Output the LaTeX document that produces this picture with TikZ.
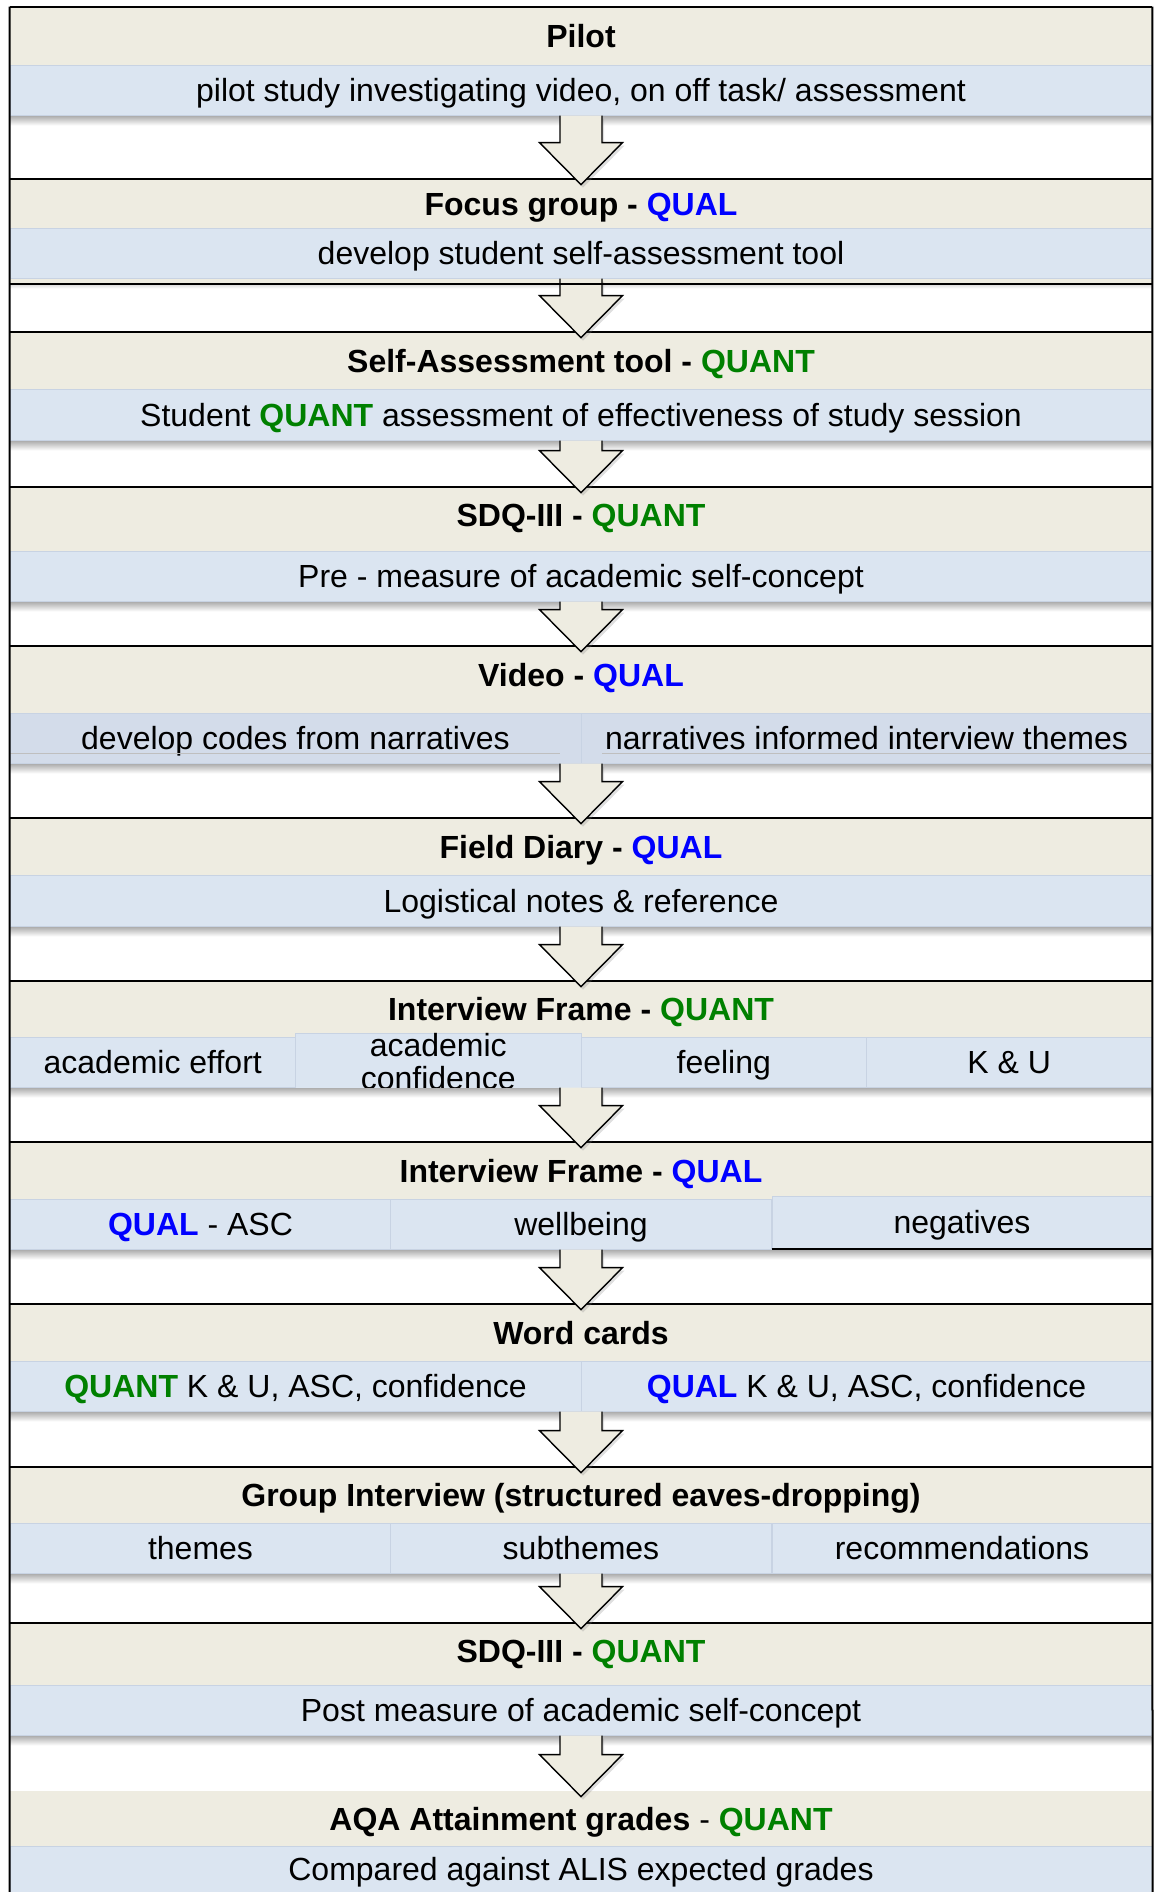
\documentclass[tikz,border=0pt]{standalone}
\usepackage{fontspec}
\setmainfont{Liberation Sans}
\usepackage{xcolor}
\definecolor{hdrtan}{RGB}{238,236,225}
\definecolor{bandblue}{RGB}{219,229,241}
\definecolor{vidblue}{RGB}{211,220,234}
\definecolor{cellline}{RGB}{200,211,227}
\definecolor{qualblue}{RGB}{0,0,255}
\definecolor{quantgreen}{RGB}{0,128,0}
\usetikzlibrary{calc,shadows}
\newcommand{\bodyfont}{\fontsize{16pt}{16.5pt}\selectfont}
\newcommand{\qual}{\textcolor{qualblue}{\bfseries QUAL}}
\newcommand{\quant}{\textcolor{quantgreen}{\bfseries QUANT}}
% block arrow from a band down into the next header
\newcommand{\flowarrow}[2]{%
  \filldraw[blk] let \p1=(#1.south), \p2=(#2.north) in
    (\x1-10.5pt,\y1) -- (\x1-10.5pt,\y2+18pt) -- (\x1-20.75pt,\y2+18pt) -- (\x1,\y2-3pt)
    -- (\x1+20.75pt,\y2+18pt) -- (\x1+10.5pt,\y2+18pt) -- (\x1+10.5pt,\y1);}

\begin{document}
\begin{tikzpicture}[x=0.5pt,y=-0.5pt,
  mid/.style={text height=11.5pt,text depth=0pt},
  hdr/.style={fill=hdrtan,minimum width=571pt,inner sep=0pt,mid,font=\bodyfont\bfseries},
  band/.style={fill=bandblue,draw=cellline,line width=0.5pt,minimum width=571pt,inner sep=0pt,mid,font=\bodyfont},
  twocell/.style={fill=bandblue,draw=cellline,line width=0.5pt,inner sep=0pt,align=center,font=\bodyfont},
  cell/.style={twocell,mid},
  rule/.style={black,line width=1pt},
  blk/.style={fill=hdrtan,draw=black,line width=0.7pt,line join=miter,
    drop shadow={opacity=0.25,shadow xshift=1pt,shadow yshift=-1.5pt}}]
  \useasboundingbox (0,0) rectangle (1156,1892);
  % Pilot
  \node[hdr,minimum height=29pt] (h1) at (581,36) {Pilot};
  \node[band,minimum height=25pt] (b1) at (581,90) {pilot study investigating video, on off task/ assessment};
  % Focus group
  \node[hdr,minimum height=24.5pt] (h2) at (581,203.5) {Focus group - \qual};
  \node[band,minimum height=25pt] (b2) at (581,253) {develop student self-assessment tool};
  % Self-Assessment tool
  \node[hdr,minimum height=28.5pt] (h3) at (581,360.5) {Self-Assessment tool - \quant};
  \node[band,minimum height=25.5pt] (b3) at (581,414.5) {Student \quant{} assessment of effectiveness of study session};
  % SDQ-III (pre)
  \node[hdr,minimum height=32pt,text depth=4pt] (h4) at (581,519) {SDQ-III - \quant};
  \node[band,minimum height=25pt] (b4) at (581,576) {Pre - measure of academic self-concept};
  % Video
  \node[hdr,minimum height=33.5pt,text depth=5pt] (h5) at (581,679.5) {Video - \qual};
  \node[band,fill=vidblue,minimum height=25pt] (b5) at (581,738) {};
  \node[cell,fill=vidblue,minimum width=285.5pt,minimum height=25pt] (v1) at (295.5,738) {develop codes from narratives};
  \node[cell,fill=vidblue,minimum width=285.5pt,minimum height=25pt] (v2) at (866.5,738) {narratives informed interview themes};
  \draw[black!25,line width=0.8pt] (v1.south west) ++(0,-10) -- ++(550,0);
  \draw[black!25,line width=0.8pt] (v2.south east) ++(0,-10) -- ++(-551,0);
  % Field Diary
  \node[hdr,minimum height=28.5pt] (h6) at (581,846.5) {Field Diary - \qual};
  \node[band,minimum height=25.5pt] (b6) at (581,900.5) {Logistical notes \& reference};
  % Interview Frame - QUANT
  \node[hdr,minimum height=28pt] (h7) at (581,1009) {Interview Frame - \quant};
  \node[band,minimum height=25pt] (b7) at (581,1062) {};
  \node[cell,minimum width=142.75pt,minimum height=25pt] (q1) at (152.75,1062) {academic effort};
  \node[twocell,minimum width=142.75pt,minimum height=25pt] (q2) at (438.25,1062) {academic\\confidence};
  \node[cell,minimum width=142.75pt,minimum height=25pt] (q3) at (723.75,1062) {feeling};
  \node[cell,minimum width=142.75pt,minimum height=25pt] (q4) at (1009.25,1062) {K \& U};
  % Interview Frame - QUAL
  \node[hdr,minimum height=28.5pt] (h8) at (581,1170.5) {Interview Frame - \qual};
  \node[band,minimum height=25pt] (b8) at (581,1224) {};
  \node[cell,minimum width=190.5pt,minimum height=25pt] (l1) at (200.5,1224) {\qual{} - ASC};
  \node[cell,minimum width=190.5pt,minimum height=25pt] (l2) at (581,1224) {wellbeing};
  \node[cell,minimum width=190pt,minimum height=26pt] (l3) at (962,1222) {negatives};
  \draw[line width=1pt] (l3.south west) -- (l3.south east);
  % Word cards
  \node[hdr,minimum height=28.5pt] (h9) at (581,1332.5) {Word cards};
  \node[band,minimum height=25pt] (b9) at (581,1386) {};
  \node[cell,minimum width=285.5pt,minimum height=25pt] (w1) at (295.5,1386) {\quant{} K \& U, ASC, confidence};
  \node[cell,minimum width=285.5pt,minimum height=25pt] (w2) at (866.5,1386) {\qual{} K \& U, ASC, confidence};
  % Group Interview
  \node[hdr,minimum height=28pt] (h10) at (581,1495) {Group Interview (structured eaves-dropping)};
  \node[band,minimum height=25pt] (b10) at (581,1548) {};
  \node[cell,minimum width=190.5pt,minimum height=25pt] (g1) at (200.5,1548) {themes};
  \node[cell,minimum width=190.5pt,minimum height=25pt] (g2) at (581,1548) {subthemes};
  \node[cell,minimum width=190pt,minimum height=25pt] (g3) at (962,1548) {recommendations};
  % SDQ-III (post)
  \node[hdr,minimum height=31pt,text depth=3pt] (h11) at (581,1654) {SDQ-III - \quant};
  \node[band,minimum height=25pt] (b11) at (581,1710) {Post measure of academic self-concept};
  % AQA
  \node[hdr,minimum height=27.5pt] (h12) at (581,1818.5) {AQA Attainment grades {\mdseries -} \quant};
  \node[band,minimum height=23pt] (b12) at (581,1869) {Compared against ALIS expected grades};
  % shadows under the bands
  \foreach \i in {1,...,11}{
    \shade[top color=black!30,bottom color=white] ($(b\i.south west)+(0,1)$) rectangle ++(1142,9);
  }
  \fill[hdrtan] (b2.south west) rectangle ++(1142,5);
  % section top lines
  \foreach \i in {1,...,11}{
    \draw[rule] (h\i.north west) -- (h\i.north east);
  }
  % arrows
  \foreach \i in {1,...,11}{
    \pgfmathtruncatemacro{\j}{\i+1}
    \flowarrow{b\i}{h\j}
  }
  \draw[rule] ($(b2.south west)+(0,5)$) -- ++(1142,0);
  % outer frame
  \draw[rule] (h1.north west) -- (b12.south west);
  \draw[rule] (h1.north east) -- (b12.south east);
\end{tikzpicture}
\end{document}
